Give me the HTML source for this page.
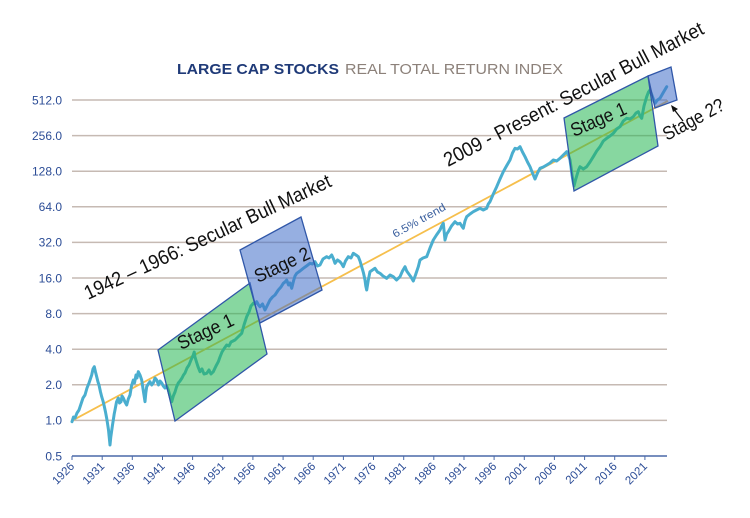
<!DOCTYPE html>
<html>
<head>
<meta charset="utf-8">
<style>
  html, body { margin:0; padding:0; background:#ffffff; }
  svg { display:block; }
  text { font-family: "Liberation Sans", "DejaVu Sans", sans-serif; }
</style>
</head>
<body>
<svg width="750" height="518" viewBox="0 0 750 518" xmlns="http://www.w3.org/2000/svg">
  <rect x="0" y="0" width="750" height="518" fill="#ffffff"/>

  <!-- Title -->
  <text x="177" y="74" font-size="15" font-weight="bold" fill="#1f3a78" textLength="162" lengthAdjust="spacingAndGlyphs">LARGE CAP STOCKS</text>
  <text x="345" y="74" font-size="15" fill="#8c817a" textLength="218" lengthAdjust="spacingAndGlyphs">REAL TOTAL RETURN INDEX</text>

  <!-- Gridlines -->
  <g stroke="#c6bab3" stroke-width="1.5">
    <line x1="72" y1="100" x2="667" y2="100"/>
    <line x1="72" y1="135.6" x2="667" y2="135.6"/>
    <line x1="72" y1="171.2" x2="667" y2="171.2"/>
    <line x1="72" y1="206.8" x2="667" y2="206.8"/>
    <line x1="72" y1="242.4" x2="667" y2="242.4"/>
    <line x1="72" y1="278" x2="667" y2="278"/>
    <line x1="72" y1="313.6" x2="667" y2="313.6"/>
    <line x1="72" y1="349.2" x2="667" y2="349.2"/>
    <line x1="72" y1="384.8" x2="667" y2="384.8"/>
    <line x1="72" y1="420.4" x2="667" y2="420.4"/>
  </g>
  <!-- x axis -->
  <line x1="72" y1="456" x2="667" y2="456" stroke="#4a69a8" stroke-width="1.5"/>
  <g stroke="#4a69a8" stroke-width="1">
    <line x1="72" y1="456" x2="72" y2="460"/>
    <line x1="102.2" y1="456" x2="102.2" y2="460"/>
    <line x1="132.3" y1="456" x2="132.3" y2="460"/>
    <line x1="162.5" y1="456" x2="162.5" y2="460"/>
    <line x1="192.6" y1="456" x2="192.6" y2="460"/>
    <line x1="222.8" y1="456" x2="222.8" y2="460"/>
    <line x1="252.9" y1="456" x2="252.9" y2="460"/>
    <line x1="283.1" y1="456" x2="283.1" y2="460"/>
    <line x1="313.2" y1="456" x2="313.2" y2="460"/>
    <line x1="343.4" y1="456" x2="343.4" y2="460"/>
    <line x1="373.5" y1="456" x2="373.5" y2="460"/>
    <line x1="403.7" y1="456" x2="403.7" y2="460"/>
    <line x1="433.8" y1="456" x2="433.8" y2="460"/>
    <line x1="464" y1="456" x2="464" y2="460"/>
    <line x1="494.1" y1="456" x2="494.1" y2="460"/>
    <line x1="524.3" y1="456" x2="524.3" y2="460"/>
    <line x1="554.4" y1="456" x2="554.4" y2="460"/>
    <line x1="584.6" y1="456" x2="584.6" y2="460"/>
    <line x1="614.7" y1="456" x2="614.7" y2="460"/>
    <line x1="644.9" y1="456" x2="644.9" y2="460"/>
  </g>

  <!-- Y labels -->
  <g font-size="12" fill="#2b4c96" text-anchor="end">
    <text x="62" y="104.3">512.0</text>
    <text x="62" y="139.9">256.0</text>
    <text x="62" y="175.5">128.0</text>
    <text x="62" y="211.1">64.0</text>
    <text x="62" y="246.7">32.0</text>
    <text x="62" y="282.3">16.0</text>
    <text x="62" y="317.9">8.0</text>
    <text x="62" y="353.5">4.0</text>
    <text x="62" y="389.1">2.0</text>
    <text x="62" y="424.7">1.0</text>
    <text x="62" y="460.3">0.5</text>
  </g>

  <!-- X labels -->
  <g font-size="11.5" fill="#2b4c96" text-anchor="end">
    <text transform="translate(75,467) rotate(-45)">1926</text>
    <text transform="translate(105.2,467) rotate(-45)">1931</text>
    <text transform="translate(135.3,467) rotate(-45)">1936</text>
    <text transform="translate(165.5,467) rotate(-45)">1941</text>
    <text transform="translate(195.6,467) rotate(-45)">1946</text>
    <text transform="translate(225.8,467) rotate(-45)">1951</text>
    <text transform="translate(255.9,467) rotate(-45)">1956</text>
    <text transform="translate(286.1,467) rotate(-45)">1961</text>
    <text transform="translate(316.2,467) rotate(-45)">1966</text>
    <text transform="translate(346.4,467) rotate(-45)">1971</text>
    <text transform="translate(376.5,467) rotate(-45)">1976</text>
    <text transform="translate(406.7,467) rotate(-45)">1981</text>
    <text transform="translate(436.8,467) rotate(-45)">1986</text>
    <text transform="translate(467,467) rotate(-45)">1991</text>
    <text transform="translate(497.1,467) rotate(-45)">1996</text>
    <text transform="translate(527.3,467) rotate(-45)">2001</text>
    <text transform="translate(557.4,467) rotate(-45)">2006</text>
    <text transform="translate(587.6,467) rotate(-45)">2011</text>
    <text transform="translate(617.7,467) rotate(-45)">2016</text>
    <text transform="translate(647.9,467) rotate(-45)">2021</text>
  </g>

  <!-- Trend line -->
  <line x1="72" y1="420.7" x2="668" y2="100.8" stroke="#f6bf4c" stroke-width="1.8"/>

  <!-- Series -->
  <polyline fill="none" stroke="#4aaecf" stroke-width="3" stroke-linejoin="round" stroke-linecap="round"
    points="72,421.7 73.5,417 75,418 77,413 79,410 81,404 83,398 85,395 87,388 89,383 91.7,375 93,369 94.3,366.7 95.5,372 96.7,376.7 98,382 99,385 100.5,392 101.7,396.7 103,401 104,405 105.5,412 106.7,418.3 107.6,424 108.5,430 109.3,438 110,445 110.8,437 111.5,432 112.5,425 113.3,420 114.2,414 115,410 116.5,402 118.3,398 119.5,403 121,401.7 122,396 123.3,398 125,402 126.7,405 128.3,399 130,395 131.5,386 133.3,380 134.5,383 136,375 137,378 138.3,371.7 140,375 141.7,380 142.6,386 143.5,392 144.3,397 145,401.7 145.8,393 146.7,386.7 148.3,384 150,381.7 151.7,385 153.3,383 155,378 156.7,380 158.5,385 160,381 161.7,383 163.3,386 165,388 166.7,386 168.3,390 170,396 171.7,401.7 173.3,396 175,392 176.5,387 178.3,383 180,381 182,378 183.5,375 185,373 187,368 189,365 191,360 193.3,355 194.2,352 195,357 196.5,362 198,366.7 200,371.7 202,369 204,374 206.7,373.3 209,370 211,374 213.3,371.7 216,366 218.3,361.7 220,357 222,352 224.5,348 226.7,345 229,346 231,342 235,340 238,337 241.7,333.3 244,325 246.7,316.7 249,312 251,306 253.3,303.3 255,304 256.7,301.7 258.5,305 260,306.7 262.5,304 265,310 267.5,305 270,300 272.5,297 275,295 278.3,290 281,287 283.3,283.3 285,282 286.7,280 288.5,285 290,283 291.7,288.3 293.5,281 295,276 296.7,273.3 300,271 303.3,268.3 306.5,266 310,263.3 312.5,264 315,261.7 317.5,266 320,265 323,259 326.7,256.7 329,258 331.7,255 333.5,259 335,263.3 337.5,260 340,261.7 341.8,264 343.3,266.7 345.5,261 348.3,256.7 351,258 353.3,253.3 356,255 358.3,256.7 360,261 361.7,266.7 363.5,273 365,280 365.8,286 366.7,290 368.3,280 370,271.7 372.5,270 375,268.3 377.5,272 380,273.3 383,276 386.7,278.3 390,275 393.3,276.7 396.5,280 400,276.7 402.5,271 405,266.7 406.7,271 408.3,273.3 411,277 413.3,281 415.5,275 418.3,266.7 420,260 423,258 426.7,256.7 430,248 433.3,240 436.5,235 440,230 441.7,226 443.3,223.3 444.2,232 445,240 446.7,234 448.3,231.7 451.5,226 455,221.7 457.5,224 460,223.3 461.7,226 463.3,228.3 465,221 466.7,216.7 470,214 473.3,211.7 476.5,210 480,208.3 483.3,210 486.7,208.3 488.3,204 490,201.7 493.3,194 496.7,186.7 500,179 503.3,171.7 506.5,166 510,160 512.5,153 515,148.3 517.5,149 520,146.7 522.5,152 525,156.7 527.5,162 530,166.7 532.5,173 535,179 537.5,173 540,168.3 543.3,167 546.7,165 550,163 553.3,160 556.7,161 560,158.3 563.3,155 566.7,151.7 568.5,155 570,160 571,167 572,175 573,181 574,186 575.5,180 577,175 578.5,170 580,166.7 583.3,169 586.7,166.7 590,162 593.3,156.7 596.7,151 600,146.7 603.3,141 606.7,138.3 610,136 613.3,133.3 616.7,129 620,126.7 623.3,121 626.7,118.3 630,119 633.3,116.7 636,113 638.3,111.7 640,116 641.7,118.3 644,106 646.7,96.7 648.5,92 650,90 651.5,94 653,98 654,101 655,103.3 657.5,100 660,98.3 663,93 666.7,86.7"/>

  <!-- Boxes -->
  <g stroke="#3057a8" stroke-width="1.3" stroke-linejoin="miter">
    <polygon points="158,350 250,283 267,354 175,421" fill="rgb(37,182,82)" fill-opacity="0.55"/>
    <polygon points="240,250 301,217 322,290 260,323" fill="rgb(64,110,200)" fill-opacity="0.55"/>
    <polygon points="564,118 648,76 658,146 574,191" fill="rgb(37,182,82)" fill-opacity="0.55"/>
    <polygon points="648,76 671,67 677,100 655,108" fill="rgb(64,110,200)" fill-opacity="0.55"/>
  </g>

  <!-- Trend label -->
  <text transform="translate(395,238) rotate(-29)" font-size="11" fill="#3a5f9e" textLength="59" lengthAdjust="spacingAndGlyphs">6.5% trend</text>

  <!-- Annotations -->
  <g fill="#111111">
    <text transform="translate(88,300) rotate(-25)" font-size="20" textLength="270" lengthAdjust="spacingAndGlyphs">1942 – 1966: Secular Bull Market</text>
    <text transform="translate(448,167) rotate(-27.5)" font-size="20" textLength="290" lengthAdjust="spacingAndGlyphs">2009 -  Present: Secular Bull Market</text>
    <text transform="translate(181,350) rotate(-25)" font-size="19" textLength="60" lengthAdjust="spacingAndGlyphs">Stage 1</text>
    <text transform="translate(258,283) rotate(-25)" font-size="19" textLength="59" lengthAdjust="spacingAndGlyphs">Stage 2</text>
    <text transform="translate(574,137) rotate(-23.5)" font-size="19" textLength="59" lengthAdjust="spacingAndGlyphs">Stage 1</text>
    <text transform="translate(667,141) rotate(-28.5)" font-size="19" textLength="67" lengthAdjust="spacingAndGlyphs">Stage 2?</text>
  </g>

  <!-- Arrow -->
  <line x1="683" y1="121" x2="673" y2="108" stroke="#111111" stroke-width="1.3"/>
  <polygon points="671,105 678,109 673,112" fill="#111111"/>
</svg>
</body>
</html>
